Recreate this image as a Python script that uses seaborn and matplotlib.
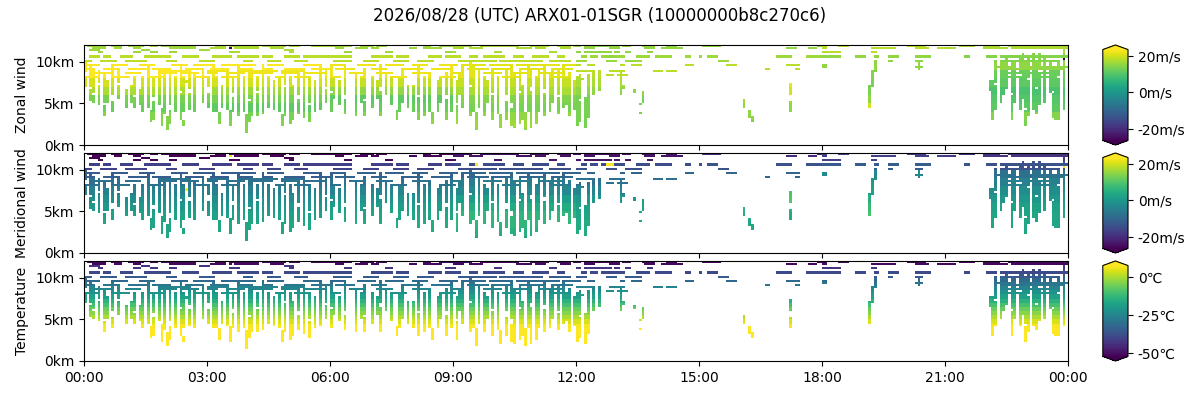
import numpy as np
import matplotlib
matplotlib.use("Agg")
import matplotlib.pyplot as plt
import seaborn as sns
from matplotlib.ticker import FuncFormatter

# ---------------- text ----------------
title = "2026/08/28 (UTC) ARX01-01SGR (10000000b8c270c6)"
panel_labels = ["Zonal wind", "Meridional wind", "Temperature"]
time_tick_labels = ["00:00", "03:00", "06:00", "09:00", "12:00", "15:00", "18:00", "21:00", "00:00"]
alt_ticks_km = [0, 5, 10]
wind_cbar_ticks = [-20, 0, 20]
temp_cbar_ticks = [-50, -25, 0]
wind_range = [-26.5, 23.3]
temp_range = [-52.2, 7.6]

# ---------------- observations read from the picture ----------------
# vertical profiles (ascents / descents): "time bottom_km-top_km [bottom-top ...]"
profiles = [
    # 00-06
    "00:03 7.0-8.2 8.8-10.0", "00:08 5.4-6.6 7.2-9.6", "00:13 5.0-5.8 6.4-9.0",
    "00:20 4.8-7.0 7.6-8.8", "00:28 5.0-8.5", "00:31 3.6-4.6", "00:33 5.0-7.5",
    "00:42 4.0-5.2 6.0-9.5", "00:50 5.5-7.0 7.5-9.0", "01:02 4.5-6.5", "01:08 5.0-7.0",
    "01:15 4.5-5.5 6.2-8.0", "01:20 4.8-6.5", "01:27 4.0-8.0", "01:35 4.5-9.5",
    "01:38 2.8-4.2", "01:42 3.0-5.0 5.8-8.0", "01:50 4.8-9.0", "01:53 2.4-4.4",
    "01:57 3.8-8.5", "02:01 1.8-3.4", "02:05 2.5-4.0 4.8-9.0", "02:12 4.2-8.0",
    "02:20 3.0-6.0 6.6-9.5", "02:27 2.4-2.8 4.0-8.0", "02:35 4.4-6.0 6.8-9.0",
    "02:43 4.0-8.5", "02:52 5.0-9.0", "03:00 4.6-6.2 7.0-8.0", "03:08 4.2-9.5",
    "03:15 4.0-8.0", "03:18 2.6-3.8", "03:22 4.5-7.0", "03:30 4.4-9.0", "03:33 2.4-4.0",
    "03:37 4.2-5.6 6.4-8.0", "03:45 3.6-9.5", "03:52 4.0-8.0", "03:56 1.7-3.6",
    "04:00 2.9-5.0 5.6-9.0", "04:07 3.5-8.5", "04:15 3.6-6.0 6.6-8.0", "04:23 3.8-9.5",
    "04:30 4.6-8.0", "04:37 4.4-7.5", "04:45 4.0-8.0", "04:49 2.3-3.6",
    "04:52 3.5-6.8 7.4-9.0", "05:00 4.2-8.0", "05:03 2.5-3.8", "05:07 3.2-7.0",
    "05:15 3.8-5.4 6.0-8.5", "05:22 3.3-9.0", "05:30 2.8-4.6 5.2-8.0", "05:37 4.0-7.5",
    "05:45 4.4-9.5", "05:52 5.0-6.5 7.0-9.0",
    # 06-12
    "06:02 4.2-6.0 6.6-9.5", "06:07 5.5-8.0", "06:15 4.8-7.5", "06:22 3.8-5.4 6.0-9.5",
    "06:37 3.5-8.5", "06:45 5.0-8.0", "06:50 3.5-5.0 5.6-9.0", "07:03 4.6-8.0",
    "07:10 5.5-7.5", "07:15 3.6-6.4 7.0-9.5", "07:22 6.0-8.5", "07:30 4.8-8.0",
    "07:38 3.0-4.0", "07:42 4.2-8.0", "07:47 5.0-9.0", "07:52 4.5-7.0", "08:00 4.0-7.0",
    "08:08 3.0-5.6 6.2-9.5", "08:17 3.5-8.0", "08:26 4.0-8.5", "08:29 2.7-3.8",
    "08:36 4.2-7.5", "08:42 5.0-8.0", "08:48 3.2-5.4 6.0-8.5", "08:57 4.0-9.5",
    "09:05 2.6-4.6 5.2-7.5", "09:10 6.0-8.5", "09:15 4.5-9.5", "09:25 3.5-6.8 7.4-10.0",
    "09:30 4.0-9.5", "09:34 1.8-3.8", "09:37 4.5-9.0", "09:44 3.5-8.0", "09:50 5.0-7.5",
    "09:59 3.2-5.8 6.4-9.0", "10:04 3.8-8.0", "10:08 2.0-3.6", "10:16 3.0-5.2 6.0-9.0",
    "10:24 2.4-4.4 5.0-9.5", "10:31 2.2-8.5", "10:38 2.7-6.0 6.6-9.0", "10:43 3.0-7.0",
    "10:46 1.8-3.8", "10:48 4.0-9.5", "10:55 2.0-6.4 7.0-9.0", "11:02 2.5-8.0",
    "11:07 4.0-9.0", "11:12 3.5-6.0 6.8-9.5", "11:20 4.0-8.5", "11:26 5.0-9.0",
    "11:32 3.8-5.6 6.2-9.0", "11:41 4.5-9.5", "11:46 4.8-8.0", "11:51 3.5-8.5",
    "11:57 4.4-7.5",
    # 12-18
    "12:02 2.4-8.0", "12:07 2.8-5.0 5.6-8.4", "12:12 2.2-5.5", "12:17 3.4-8.4",
    "12:27 6.2-8.8", "12:32 6.6-8.8", "13:05 6.0-8.8", "13:10 6.8-7.2", "13:25 6.3-6.5",
    "13:34 3.8-3.9 4.8-4.9", "13:38 5.0-6.4", "16:07 4.5-5.4", "16:12 3.4-4.2",
    "16:16 2.9-3.4", "17:14 4.2-5.2 6.0-6.6 6.8-7.4",
    # 18-24
    "19:17 8.8-10.2", "19:13 7.2-8.8", "19:11 5.6-7.2", "19:08 4.5-5.6", "20:23 9.2-10.2",
    "22:04 6.6-7.6", "22:10 3.2-7.6", "22:15 4.4-7.0 7.6-10.0", "22:20 5.2-10.0",
    "22:27 6.0-10.0", "22:31 6.8-10.4", "22:37 3.0-5.8 6.4-10.0", "22:43 5.2-10.0",
    "22:48 4.4-8.0 8.6-10.4", "22:53 5.6-10.8", "22:58 2.3-4.0 4.6-10.0",
    "23:03 3.6-7.6 8.2-10.4", "23:10 4.4-10.8", "23:14 3.8-6.6 7.2-10.0",
    "23:19 4.8-8.6 9.2-10.8", "23:25 5.0-10.4", "23:33 6.4-10.0", "23:37 3.4-6.0 6.6-9.2",
    "23:42 3.2-9.2", "23:47 3.2-7.8 8.4-10.0", "23:55 4.4-11.6",
]

# level flight legs: "altitude_km start-end"
cruise_00_06 = [
    "11.85 00:05-00:30", "11.85 00:40-00:55", "11.85 01:05-01:25", "11.85 01:38-01:45",
    "11.85 01:55-02:40", "11.85 03:15-03:25", "11.85 03:35-04:15", "11.85 04:22-04:52",
    "11.85 05:02-05:12", "11.85 05:32-06:00",
    "11.6 00:15-00:28", "11.6 00:47-00:55", "11.6 01:13-01:20", "11.6 02:07-02:20",
    "11.6 02:27-02:40", "11.6 03:05-03:25", "11.6 03:40-04:15", "11.6 04:33-04:48",
    "11.35 00:10-00:20", "11.35 01:25-01:35", "11.35 02:50-03:00", "11.35 04:55-05:05",
    "11.1 00:20-00:25", "11.1 01:13-01:23", "11.1 01:38-01:45", "11.1 02:07-02:12",
    "11.1 03:35-03:45", "11.1 05:00-05:07",
    "10.6 00:10-00:20", "10.6 00:30-00:37", "10.6 00:55-01:08", "10.6 01:28-01:52",
    "10.6 01:57-02:07", "10.6 02:27-02:45", "10.6 03:10-03:35", "10.6 03:45-04:13",
    "10.6 04:23-04:33", "10.6 04:52-05:12", "10.6 05:22-05:40", "10.6 05:42-06:00",
    "10.1 00:00-00:10", "10.1 00:25-00:45", "10.1 01:00-01:10", "10.1 01:15-01:30",
    "10.1 02:00-02:15", "10.1 02:50-03:10", "10.1 03:55-04:05", "10.1 04:30-04:45",
    "10.1 05:10-05:25",
    "9.6 00:05-00:20", "9.6 00:40-01:00", "9.6 01:20-01:40", "9.6 02:10-02:30",
    "9.6 02:40-03:05", "9.6 03:20-03:40", "9.6 03:50-04:10", "9.6 04:30-04:50",
    "9.6 05:20-05:45",
    "9.1 00:00-00:15", "9.1 00:30-00:50", "9.1 01:05-01:30", "9.1 01:40-02:05",
    "9.1 02:30-02:55", "9.1 03:05-03:25", "9.1 03:45-04:05", "9.1 04:20-04:35",
    "9.1 04:55-05:20", "9.1 05:35-06:00",
    "8.85 01:50-02:30", "8.85 03:00-03:30", "8.85 03:50-04:40", "8.85 04:50-05:20",
    "8.6 00:15-00:40", "8.6 01:00-01:20", "8.6 01:50-02:15", "8.6 02:20-02:45",
    "8.6 03:00-03:15", "8.6 03:30-03:55", "8.6 04:10-04:35", "8.6 04:50-05:10",
    "8.6 05:25-05:50",
    "8.1 00:05-00:20", "8.1 00:45-01:05", "8.1 01:35-01:55", "8.1 02:40-03:00",
    "8.1 03:20-03:40", "8.1 04:40-04:55", "8.1 05:10-05:30",
]
cruise_06_12 = [
    "11.85 06:00-06:30", "11.85 06:44-07:03", "11.85 07:08-07:23", "11.85 08:17-08:26",
    "11.85 08:41-09:25", "11.85 09:40-09:52", "11.85 09:59-10:33", "11.85 10:53-11:17",
    "11.85 11:32-11:51", "11.85 11:58-12:05",
    "11.6 06:10-06:17", "11.6 06:39-06:54", "11.6 07:03-07:10", "11.6 07:57-08:07",
    "11.6 08:17-08:41", "11.6 09:00-09:15", "11.6 09:25-09:40", "11.6 10:33-10:53",
    "11.6 11:00-11:12", "11.6 11:36-11:51",
    "11.1 06:20-06:30", "11.1 07:20-07:30", "11.1 08:50-09:00", "11.1 10:00-10:10",
    "11.1 11:20-11:30",
    "10.6 06:00-06:29", "10.6 07:03-07:28", "10.6 07:38-07:52", "10.6 08:26-08:41",
    "10.6 08:50-09:10", "10.6 09:25-09:35", "10.6 09:44-09:54", "10.6 09:59-10:14",
    "10.6 10:28-10:43", "10.6 10:58-11:17", "10.6 11:32-11:42",
    "10.1 06:05-06:30", "10.1 06:50-07:10", "10.1 07:35-07:55", "10.1 08:10-08:30",
    "10.1 09:10-09:30", "10.1 09:35-10:00", "10.1 10:10-10:40", "10.1 10:45-11:10",
    "10.1 11:20-11:50",
    "9.6 06:00-06:20", "9.6 06:40-07:05", "9.6 07:20-07:45", "9.6 08:00-08:20",
    "9.6 08:40-09:05", "9.6 09:15-09:45", "9.6 09:55-10:25", "9.6 10:35-11:00",
    "9.6 11:05-11:35", "9.6 11:40-12:00",
    "9.1 06:10-06:35", "9.1 07:00-07:20", "9.1 07:50-08:15", "9.1 08:30-08:55",
    "9.1 09:20-09:50", "9.1 10:00-10:20", "9.1 10:40-11:10", "9.1 11:30-11:55",
    "8.6 06:30-06:50", "8.6 07:10-07:30", "8.6 08:00-08:20", "8.6 09:00-09:15",
    "8.6 09:45-10:10", "8.6 10:30-10:50", "8.6 11:10-11:40",
    "8.1 06:00-06:15", "8.1 07:30-07:50", "8.1 08:40-09:00", "8.1 10:15-10:35",
    "8.1 11:20-11:45",
]
cruise_12_18 = [
    "11.85 12:00-12:03", "11.85 12:12-12:27", "11.85 12:29-13:03", "11.85 13:10-13:17",
    "11.85 13:37-13:52", "11.85 14:14-14:26", "11.85 15:05-15:30", "11.85 17:54-18:06",
    "11.6 12:14-12:24", "11.6 12:49-13:03", "11.6 13:40-13:55", "11.6 14:04-14:34",
    "11.6 17:10-17:22", "11.6 17:40-17:50",
    "11.1 12:00-12:07", "11.1 12:14-12:24", "11.1 12:29-12:49", "11.1 12:56-13:01",
    "11.1 13:13-13:18", "11.1 13:45-13:50",
    "10.6 12:10-12:14", "10.6 12:22-12:29", "10.6 12:37-12:41", "10.6 12:44-12:56",
    "10.6 13:01-13:08", "10.6 13:30-13:45", "10.6 13:57-14:17", "10.6 14:43-14:45",
    "10.6 15:00-15:02", "10.6 15:15-15:25", "10.6 16:53-17:12", "10.6 17:39-18:03",
    "10.1 12:00-12:05", "10.1 12:10-12:15", "10.1 12:44-12:56", "10.1 13:13-13:35",
    "10.1 15:31-15:40",
    "9.7 12:00-12:05", "9.7 12:17-12:27", "9.7 13:06-13:10", "9.7 13:23-13:33",
    "9.7 14:43-14:50", "9.7 15:42-15:55", "9.7 17:10-17:24", "9.7 18:00-18:06",
    "9.2 16:36-16:40", "9.2 17:22-17:27",
    "8.8 12:00-12:20", "8.8 12:49-13:08", "8.8 13:52-14:04", "8.8 14:12-14:24",
    "8.3 12:46-12:54", "8.3 13:03-13:15",
    "7.8 12:00-12:08",
]
cruise_18_24 = [
    "11.85 18:27-18:39", "11.85 20:07-20:31", "11.85 21:20-21:40", "11.85 21:59-22:19",
    "11.85 22:33-23:05", "11.85 23:10-23:40", "11.85 23:45-24:00",
    "11.6 18:00-18:05", "11.6 19:13-19:28", "11.6 19:33-19:45", "11.6 20:19-20:34",
    "11.6 20:48-21:13", "11.6 21:59-22:28", "11.6 22:37-23:20", "11.6 23:25-24:00",
    "11.1 18:00-18:10", "11.1 18:15-18:24", "11.1 19:13-19:18",
    "10.6 18:00-18:17", "10.6 18:20-18:25", "10.6 18:51-19:01", "10.6 19:18-19:20",
    "10.6 19:37-19:50", "10.6 20:17-20:36", "10.6 21:30-21:35", "10.6 22:01-22:14",
    "10.6 22:20-23:10", "10.6 23:15-24:00",
    "10.2 19:37-19:42", "10.2 20:17-20:26", "10.2 22:25-22:50", "10.2 23:00-23:45",
    "9.4 18:00-18:07", "9.4 20:17-20:26", "9.4 22:15-22:40", "9.4 22:50-23:30",
    "9.4 23:35-24:00",
    "9.1 22:20-22:45", "9.1 23:00-23:20", "9.1 23:30-23:55",
    "8.6 22:25-22:50", "8.6 23:05-23:40",
    "8.1 22:30-22:45", "8.1 23:15-23:35",
    "7.1 22:05-22:12",
]

# odd single reports: "time altitude_km zonal merid"
outliers = [
    "03:32 11.6 -30 30", "02:31 7.6 20 30", "09:33 10.6 17 30", "12:45 10.5 15 30",
    "12:50 10.5 15 30", "12:55 10.5 15 30", "23:54 10.4 -30 30",
]

# typical values per 1 km layer (top layer first) and 3-hour block
zonal_table = [
    [16, 17, 16, 17, 15, 15, 18, 17],   # 11-12 km
    [18, 18, 18, 18, 16, 16, 15, 14],   # 10-11
    [23, 23, 22, 21, 18, 18, 15, 15],   # 9-10
    [23, 22, 22, 21, 18, 22, 14, 12],   # 8-9
    [20, 20, 19, 19, 17, 22, 13, 11],   # 7-8
    [17, 16, 15, 17, 15, 20, 13, 9],    # 6-7
    [13, 13, 11, 14, 13, 16, 15, 10],   # 5-6
    [12, 11, 12, 13, 13, 15, 20, 11],   # 4-5
    [14, 13, 14, 15, 13, 15, 15, 14],   # 3-4
    [14, 14, 15, 16, 13, 13, 13, 13],   # 2-3
    [14, 14, 15, 15, 13, 13, 13, 13],   # 1-2
    [14, 14, 14, 14, 13, 13, 13, 13],   # 0-1
]
merid_table = [
    [-27, -27, -26, -24, -24, -20, -17, -19],
    [-17, -17, -17, -15, -15, -14, -12, -14],
    [-12, -12, -11, -10, -10, -10, -3, -8],
    [-8, -8, -8, -6, -8, -6, 0, -5],
    [-5, -5, -4, -3, -4, 9, 2, -2],
    [-2, -2, -1, 1, 0, 10, 5, 0],
    [0, 0, 1, 4, 2, 6, 7, 2],
    [2, 2, 3, 6, 3, 4, 9, 3],
    [3, 3, 4, 6, 4, 3, 4, 3],
    [3, 3, 4, 5, 4, 4, 4, 3],
    [3, 3, 3, 3, 3, 3, 3, 3],
    [3, 3, 3, 3, 3, 3, 3, 3],
]
# temperature per 0.5 km layer, bottom first
temp_profile = [28, 26, 24, 22, 19, 16, 13, 10, 7, 4, 0, -3,
                -6, -10, -14, -18, -22, -25, -29, -32, -35, -39, -43, -51]

# ---------------- grid ----------------
NT, NZ = 360, 48          # 4-minute x 250 m cells
BLOCK = NT // 8


def col(t):
    h, m = map(int, t.split(":"))
    return min((h * 60 + m) // 4, NT - 1)


def row(z):
    return min(int(z / 0.25), NZ - 1)


mask = np.zeros((NZ, NT), bool)
for p in profiles:
    parts = p.split()
    c = col(parts[0])
    for rng in parts[1:]:
        b, tp = map(float, rng.split("-"))
        mask[row(b):row(tp) + 1, c] = True
for s in cruise_00_06 + cruise_06_12 + cruise_12_18 + cruise_18_24:
    z, span = s.split()
    t0, t1 = span.split("-")
    mask[row(float(z)), col(t0):col(t1) + 1] = True

ri, ci = np.indices((NZ, NT))
zon_full = np.array(zonal_table, float)[::-1][ri // 4, ci // BLOCK]
mer_full = np.array(merid_table, float)[::-1][ri // 4, ci // BLOCK]
tmp_full = np.array(temp_profile, float)[ri // 2]

for o in outliers:
    t, z, zu, mv = o.split()
    r, c = row(float(z)), col(t)
    mask[r, c] = True
    zon_full[r, c] = float(zu)
    mer_full[r, c] = float(mv)

fields = [np.where(mask, f, np.nan)[::-1] for f in (zon_full, mer_full, tmp_full)]
ranges = [wind_range, wind_range, temp_range]
cticks = [wind_cbar_ticks, wind_cbar_ticks, temp_cbar_ticks]
units = ["m/s", "m/s", "℃"]

# ---------------- figure ----------------
fig = plt.figure(figsize=(12, 4), dpi=100)
bottoms = [0.6375, 0.3675, 0.0975]
for i in range(3):
    ax = fig.add_axes([0.07, bottoms[i], 0.82, 0.25])
    cax = fig.add_axes([0.919, bottoms[i], 0.021, 0.25])
    u = units[i]
    sns.heatmap(fields[i], ax=ax, cbar_ax=cax, cmap="viridis",
                vmin=ranges[i][0], vmax=ranges[i][1],
                xticklabels=False, yticklabels=False,
                cbar_kws=dict(extend="both", ticks=cticks[i],
                              format=FuncFormatter(lambda v, p, u=u: f"{v:.0f}{u}")))
    cb = ax.collections[0].colorbar
    cb.outline.set_linewidth(0.8)
    cb.outline.set_edgecolor("black")
    cax.tick_params(labelsize=10, length=3.5, width=0.8)
    for sp in ax.spines.values():
        sp.set_visible(True)
        sp.set_linewidth(0.8)
        sp.set_color("black")
    ax.set_xticks(np.arange(0, NT + 1, BLOCK))
    if i == 2:
        ax.set_xticklabels(time_tick_labels, rotation=0, fontsize=10)
    else:
        ax.set_xticklabels([])
    ax.set_yticks([NZ - z * 4 for z in alt_ticks_km])
    ax.set_yticklabels([f"{z}km" for z in alt_ticks_km], rotation=0, fontsize=10)
    ax.tick_params(length=3.5, width=0.8)
    ax.set_ylabel(panel_labels[i], fontsize=10)
    ax.set_xlabel("")

fig.suptitle(title, fontsize=12, y=0.982)
fig.savefig("out.png", dpi=100)
